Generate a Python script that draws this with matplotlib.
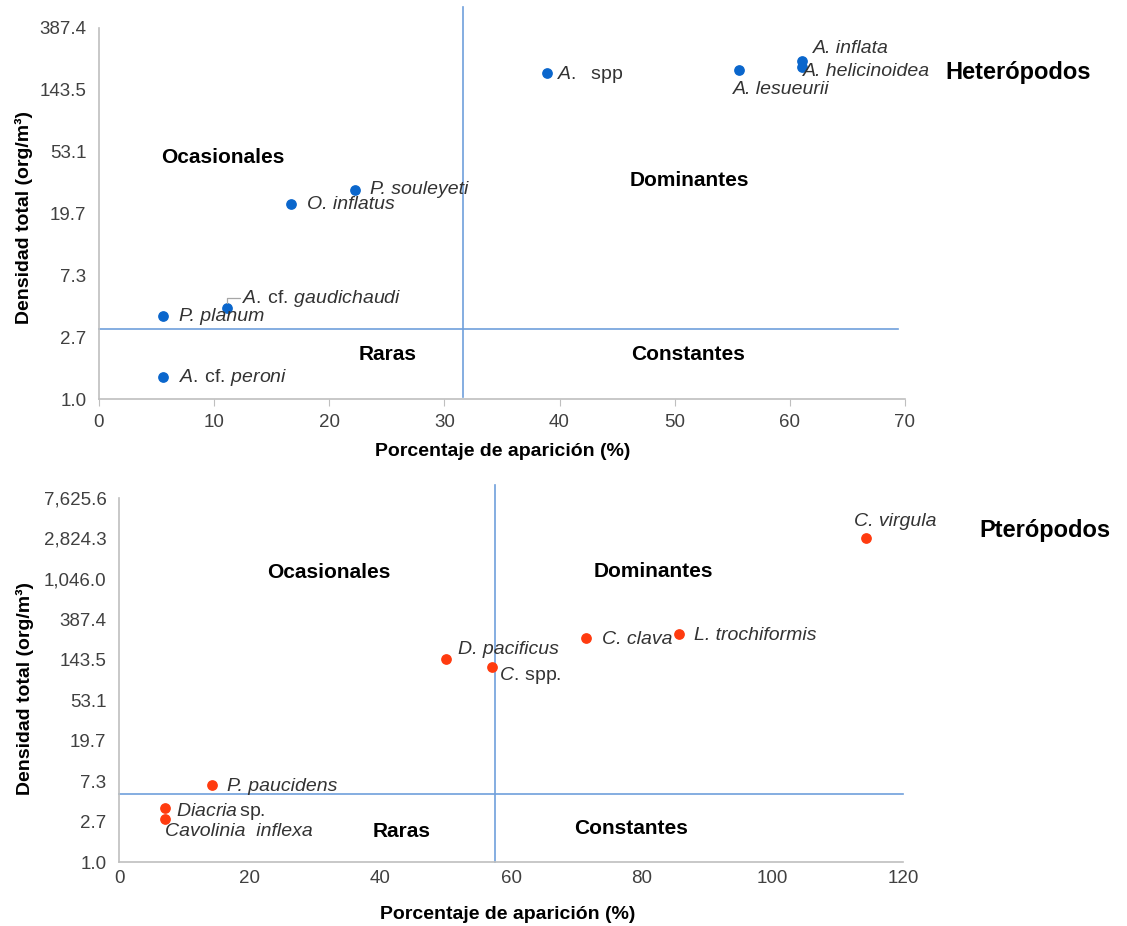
import numpy as np
import matplotlib
matplotlib.use('Agg')
import matplotlib.pyplot as plt
from matplotlib.ticker import FuncFormatter, NullLocator

plt.rcParams['font.family'] = ['Liberation Sans', 'DejaVu Sans']
plt.rcParams['mathtext.fontset'] = 'custom'
plt.rcParams['mathtext.rm'] = 'Liberation Sans'
plt.rcParams['mathtext.it'] = 'Liberation Sans:italic'

# Heterópodos
het_names = [r'$\mathit{A.}\ \ \mathrm{spp}$', 'A. lesueurii', 'A. inflata',
             'A. helicinoidea', 'P. souleyeti', 'O. inflatus',
             r'$\mathit{A.}\,\mathrm{cf.}\,\mathit{gaudichaudi}$',
             'P. planum', r'$\mathit{A.}\,\mathrm{cf.}\,\mathit{peroni}$']
het_freq = [38.9, 55.6, 61.1, 61.1, 22.2, 16.7, 11.1, 5.6, 5.6]
het_dens = [189.0, 198.0, 229.0, 208.0, 28.8, 23.0, 4.3, 3.8, 1.42]
het_freq_cut = 31.6
het_dens_cut = 3.08

# Pterópodos
pte_names = ['C. virgula', 'D. pacificus', r'$\mathit{C.}\,\mathrm{spp.}$',
             'C. clava', 'L. trochiformis', 'P. paucidens',
             r'$\mathit{Diacria}\,\mathrm{sp.}$', 'Cavolinia  inflexa']
pte_freq = [114.3, 50.0, 57.1, 71.4, 85.7, 14.3, 7.1, 7.1]
pte_dens = [2850.0, 146.0, 120.0, 245.0, 270.0, 6.6, 3.77, 2.87]
pte_freq_cut = 57.5
pte_dens_cut = 5.3

# label offsets in pixels (dx, dy)
het_offsets = [(10, -2), (-6, -20), (10, 12), (0, -5), (15, 0), (16, -1),
               (15, 10), (16, -1), (16, 0)]
pte_offsets = [(-12, 17), (12, 10), (7, -8), (16, -2), (15, -1), (15, -1),
               (11, -4), (0, -12)]

BASE = 2.7
LINE_C = '#6FA0DC'
SPINE_C = '#BFBFBF'
TICK_C = '#404040'


def style_axis(ax, xlim, xticks, nlev, xtick_len):
    ax.set_yscale('log', base=BASE)
    ax.set_xlim(*xlim)
    ax.set_ylim(1, BASE ** nlev)
    ax.set_xticks(xticks)
    ax.set_yticks(BASE ** np.arange(nlev + 1))
    ax.yaxis.set_minor_locator(NullLocator())
    ax.yaxis.set_major_formatter(FuncFormatter(lambda v, p: f'{v:,.1f}'))
    for s in ['top', 'right']:
        ax.spines[s].set_visible(False)
    for s in ['left', 'bottom']:
        ax.spines[s].set_color(SPINE_C)
        ax.spines[s].set_linewidth(1.2)
    ax.tick_params(axis='y', length=0, pad=9, labelsize=13.5, labelcolor=TICK_C)
    ax.tick_params(axis='x', length=xtick_len, color=SPINE_C, pad=6,
                   labelsize=13.5, labelcolor=TICK_C)
    ax.set_xlabel('Porcentaje de aparición (%)', fontsize=14, fontweight='bold',
                  va='top')
    ax.set_ylabel('Densidad total (org/m³)', fontsize=14, fontweight='bold')


def draw_points(ax, freq, dens, names, offsets, color):
    ax.scatter(freq, dens, s=45, color=color, zorder=3, clip_on=False)
    for f, d, n, (dx, dy) in zip(freq, dens, names, offsets):
        ax.annotate(n, (f, d), xytext=(dx, dy), textcoords='offset pixels',
                    ha='left', va='center', fontsize=14, style='italic',
                    color='#333333', zorder=4)


fig = plt.figure(figsize=(11.27, 9.26), dpi=100)

# ---- Heterópodos ----
ax1 = fig.add_axes([0.0878, 0.569, 0.7152, 0.401])
style_axis(ax1, (0, 70), np.arange(0, 71, 10), 6, 5)
ax1.plot([het_freq_cut, het_freq_cut], [BASE ** 0.03, BASE ** 6.33],
         color=LINE_C, lw=1.2, clip_on=False, zorder=2)
ax1.plot([0, 69.4], [het_dens_cut, het_dens_cut], color=LINE_C, lw=1.2,
         clip_on=False, zorder=2)
draw_points(ax1, het_freq, het_dens, het_names, het_offsets, '#0A66CC')
# leader for A. cf. gaudichaudi
ax1.annotate('', (het_freq[6], het_dens[6]), xytext=(13, 10),
             textcoords='offset pixels',
             arrowprops=dict(arrowstyle='-', color='#A6A6A6', lw=0.9,
                             connectionstyle='angle,angleA=0,angleB=90,rad=0',
                             shrinkA=0, shrinkB=4))
for txt, x, y in [('Ocasionales', 0.154, 0.650), ('Dominantes', 0.733, 0.588),
                  ('Raras', 0.358, 0.121), ('Constantes', 0.731, 0.121)]:
    ax1.text(x, y, txt, transform=ax1.transAxes, ha='center', va='center',
             fontsize=15, fontweight='bold', color='black')
ax1.yaxis.set_label_coords(-0.082, 0.49)
ax1.xaxis.set_label_coords(0.501, -0.119)
fig.text(0.903, 0.922, 'Heterópodos', ha='center', va='center', fontsize=17,
         fontweight='bold')

# ---- Pterópodos ----
ax2 = fig.add_axes([0.1056, 0.0691, 0.6957, 0.3931])
style_axis(ax2, (0, 120), np.arange(0, 121, 20), 9, 0)
ax2.plot([pte_freq_cut, pte_freq_cut], [1, BASE ** 9.32],
         color=LINE_C, lw=1.2, clip_on=False, zorder=2)
ax2.plot([0, 120], [pte_dens_cut, pte_dens_cut], color=LINE_C, lw=1.2,
         clip_on=False, zorder=2)
draw_points(ax2, pte_freq, pte_dens, pte_names, pte_offsets, '#FF3B0F')
for txt, x, y in [('Ocasionales', 0.267, 0.794), ('Dominantes', 0.682, 0.797),
                  ('Raras', 0.361, 0.085), ('Constantes', 0.653, 0.091)]:
    ax2.text(x, y, txt, transform=ax2.transAxes, ha='center', va='center',
             fontsize=15, fontweight='bold', color='black')
ax2.yaxis.set_label_coords(-0.109, 0.478)
ax2.xaxis.set_label_coords(0.496, -0.121)
fig.text(0.927, 0.427, 'Pterópodos', ha='center', va='center', fontsize=17,
         fontweight='bold')

fig.savefig('out.png', dpi=100)
